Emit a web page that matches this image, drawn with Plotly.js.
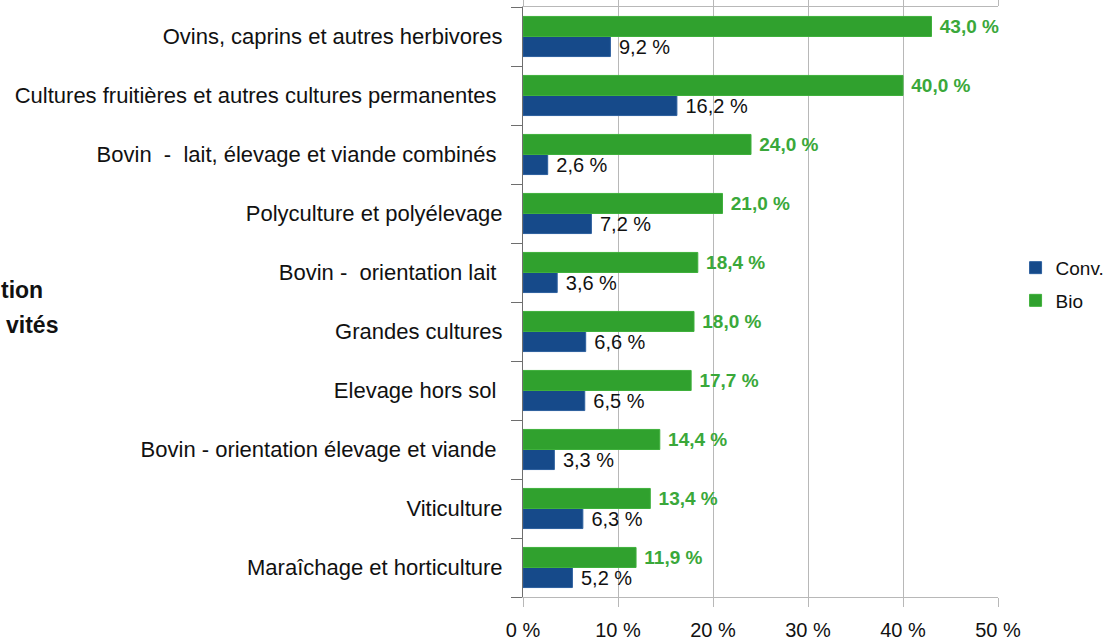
<!DOCTYPE html>
<html>
<head>
<meta charset="utf-8">
<script src="https://cdn.plot.ly/plotly-3.0.1.min.js"></script>
<style>
  html, body { margin: 0; padding: 0; background: #fff; }
  #chart { width: 1120px; height: 640px; }
</style>
</head>
<body>
<div id="chart"></div>
<script>
// categories, top to bottom as in the picture
var categories = [
    'Ovins, caprins et autres herbivores',
    'Cultures fruitières et autres cultures permanentes ',
    'Bovin  -  lait, élevage et viande combinés ',
    'Polyculture et polyélevage',
    'Bovin -  orientation lait ',
    'Grandes cultures',
    'Elevage hors sol ',
    'Bovin - orientation élevage et viande ',
    'Viticulture',
    'Maraîchage et horticulture'
];

var convValues = [9.2, 16.2, 2.6, 7.2, 3.6, 6.6, 6.5, 3.3, 6.3, 5.2];
var bioValues = [43.0, 40.0, 24.0, 21.0, 18.4, 18.0, 17.7, 14.4, 13.4, 11.9];

var xTicks = [0, 10, 20, 30, 40, 50];
var xTickText = ['0 %', '10 %', '20 %', '30 %', '40 %', '50 %'];

// plotly draws the first category at the bottom, so flip
var cats = categories.slice().reverse();
var conv = convValues.slice().reverse();
var bio = bioValues.slice().reverse();

var font = 'Liberation Sans, Arial, sans-serif';

var traceConv = {
    y: cats,
    x: conv,
    name: 'Conv.',
    legendgroup: 'conv',
    type: 'bar',
    orientation: 'h',
    marker: {color: '#164a8a', line: {color: '#2c5f9e', width: 1}},
    texttemplate: '\u00a0%{x:.1f} %',
    textposition: 'outside',
    textfont: {family: font, size: 20, color: '#111'},
    constraintext: 'none',
    cliponaxis: false,
    hoverinfo: 'x+y'
};

var traceBio = {
    y: cats,
    x: bio,
    name: 'Bio',
    legendgroup: 'bio',
    type: 'bar',
    orientation: 'h',
    marker: {color: '#30a12e', line: {color: '#3fb03c', width: 1}},
    texttemplate: '\u00a0<b>%{x:.1f} %</b>',
    textposition: 'outside',
    textfont: {family: font, size: 19, color: '#3aa83a'},
    constraintext: 'none',
    cliponaxis: false,
    hoverinfo: 'x+y'
};

var data = [traceConv, traceBio];

var layout = {
    width: 1120,
    height: 640,
    margin: {l: 523, r: 122, t: 7, b: 43, autoexpand: false},
    paper_bgcolor: '#fff',
    plot_bgcolor: '#fff',
    font: {family: font, size: 20, color: '#111'},
    separators: ', ',
    barmode: 'group',
    bargap: 0.32,
    bargroupgap: 0,
    showlegend: true,
    legend: {
        x: 1.037, y: 0.53, xanchor: 'left', yanchor: 'middle',
        font: {family: font, size: 19, color: '#111'},
        itemwidth: 30,
        tracegroupgap: 5
    },
    xaxis: {
        range: [0, 50],
        tickvals: xTicks,
        ticktext: xTickText,
        showgrid: true,
        gridcolor: '#b8b8b8',
        gridwidth: 1,
        zeroline: false,
        showline: true,
        mirror: 'all',
        linecolor: '#b8b8b8',
        linewidth: 1,
        ticks: 'outside',
        ticklen: 9,
        tickcolor: '#b8b8b8',
        ticklabelstandoff: 6,
        tickfont: {family: font, size: 20, color: '#111'}
    },
    yaxis: {
        type: 'category',
        showgrid: false,
        zeroline: false,
        showline: true,
        linecolor: '#6e6e6e',
        linewidth: 1,
        ticks: 'outside',
        tickson: 'boundaries',
        ticklen: 11,
        tickcolor: '#6e6e6e',
        ticklabelstandoff: 15,
        tickfont: {family: font, size: 22, color: '#111'}
    },
    annotations: [
        {
            xref: 'paper', yref: 'paper',
            x: -1.006, y: 0.52, xanchor: 'right', yanchor: 'middle',
            text: '<b>tion</b>', showarrow: false,
            font: {family: font, size: 23, color: '#111'}
        },
        {
            xref: 'paper', yref: 'paper',
            x: -0.975, y: 0.461, xanchor: 'right', yanchor: 'middle',
            text: '<b>vités</b>', showarrow: false,
            font: {family: font, size: 23, color: '#111'}
        }
    ]
};

Plotly.newPlot('chart', data, layout, {displayModeBar: false, staticPlot: true});
</script>
</body>
</html>
